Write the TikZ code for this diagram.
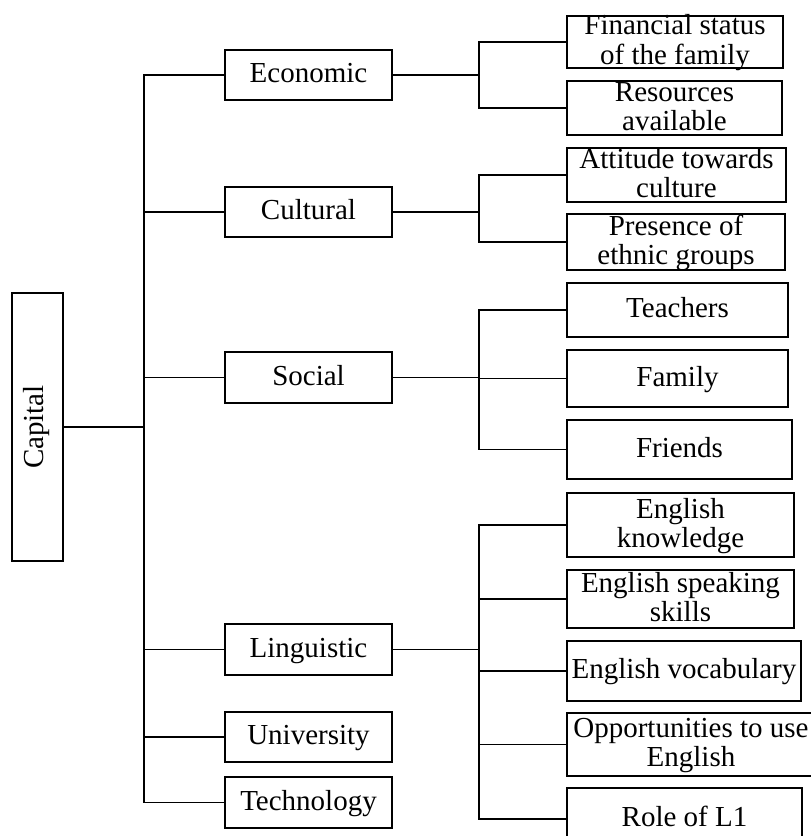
\documentclass[tikz,border=0pt]{standalone}
\usepackage{fontspec}
\setmainfont{Liberation Serif}
\begin{document}
\begin{tikzpicture}[x=1pt,y=-1pt,
  box/.style={draw, line width=1.6pt, inner sep=0pt},
  txt/.style={inner sep=0pt, align=center, font=\fontsize{29}{29}\selectfont, yshift=-2pt},
  ln/.style={line width=1.6pt}]
\clip (0,0) rectangle (811,836);
% root
\node[box, minimum width=51pt, minimum height=268pt] (cap) at (37.5,427) {};
\node[inner sep=0pt, font=\fontsize{29}{29}\selectfont, rotate=90] (capT) at (cap) {\strut Capital};
% middle level
\node[box, minimum width=167pt, minimum height=50pt] (eco) at (308.5,75) {};
\node[box, minimum width=167pt, minimum height=50pt] (cul) at (308.5,212) {};
\node[box, minimum width=167pt, minimum height=51pt] (soc) at (308.5,377.5) {};
\node[box, minimum width=167pt, minimum height=51pt] (lin) at (308.5,649.5) {};
\node[box, minimum width=167pt, minimum height=50pt] (uni) at (308.5,737) {};
\node[box, minimum width=167pt, minimum height=51pt] (tec) at (308.5,802.5) {};
\node[txt] (ecoT) at (eco) {\strut Economic};
\node[txt] (culT) at (cul) {\strut Cultural};
\node[txt] (socT) at (soc) {\strut Social};
\node[txt] (linT) at (lin) {\strut Linguistic};
\node[txt] (uniT) at (uni) {\strut University};
\node[txt] (tecT) at (tec) {\strut Technology};
% leaves
\node[box, minimum width=216pt, minimum height=52pt] (fin) at (675,42) {};
\node[box, minimum width=215pt, minimum height=54pt] (res) at (674.5,108) {};
\node[box, minimum width=219pt, minimum height=54pt] (att) at (676.5,175) {};
\node[box, minimum width=218pt, minimum height=56pt] (pre) at (676,242) {};
\node[box, minimum width=221pt, minimum height=54pt] (tea) at (677.5,310) {};
\node[box, minimum width=221pt, minimum height=57pt] (fam) at (677.5,378.5) {};
\node[box, minimum width=225pt, minimum height=59pt] (fri) at (679.5,449.5) {};
\node[box, minimum width=227pt, minimum height=64pt] (enk) at (680.5,525) {};
\node[box, minimum width=227pt, minimum height=58pt] (ens) at (680.5,599) {};
\node[box, minimum width=234pt, minimum height=60pt] (env) at (684,671) {};
\node[box, minimum width=248pt, minimum height=63pt] (opp) at (691,744.5) {};
\node[box, minimum width=235pt, minimum height=62pt] (rol) at (684.5,819) {};
\node[txt] (finT) at (fin) {\strut Financial status\\\strut of the family};
\node[txt] (resT) at (res) {\strut Resources\\\strut available};
\node[txt] (attT) at (att) {\strut Attitude towards\\\strut culture};
\node[txt] (preT) at (pre) {\strut Presence of\\\strut ethnic groups};
\node[txt] (teaT) at (tea) {\strut Teachers};
\node[txt] (famT) at (fam) {\strut Family};
\node[txt] (friT) at (fri) {\strut Friends};
\node[txt] (enkT) at (enk) {\strut English\\\strut knowledge};
\node[txt] (ensT) at (ens) {\strut English speaking\\\strut skills};
\node[txt] (envT) at (env) {\strut English vocabulary};
\node[txt] (oppT) at (opp) {\strut Opportunities to use\\\strut English};
\node[txt] (rolT) at (rol) {\strut Role of L1};
% trunk coordinates
\coordinate (T) at (144,427);
\coordinate (E) at (479,0);
% first level connectors
\draw[ln] (cap.east) -- (T);
\draw[ln] (eco.west) -- (eco.west -| T) -- (tec.west -| T) -- (tec.west);
\draw[ln] (cul.west) -- (cul.west -| T);
\draw[ln] (soc.west) -- (soc.west -| T);
\draw[ln] (lin.west) -- (lin.west -| T);
\draw[ln] (uni.west) -- (uni.west -| T);
% economic
\draw[ln] (eco.east) -- (eco.east -| E);
\draw[ln] (fin.west) -- (fin.west -| E) -- (res.west -| E) -- (res.west);
% cultural
\draw[ln] (cul.east) -- (cul.east -| E);
\draw[ln] (att.west) -- (att.west -| E) -- (pre.west -| E) -- (pre.west);
% social
\draw[ln] (soc.east) -- (soc.east -| E);
\draw[ln] (tea.west) -- (tea.west -| E) -- (fri.west -| E) -- (fri.west);
\draw[ln] (fam.west -| E) -- (fam.west);
% linguistic
\draw[ln] (lin.east) -- (lin.east -| E);
\draw[ln] (enk.west) -- (enk.west -| E) -- (rol.west -| E) -- (rol.west);
\draw[ln] (ens.west -| E) -- (ens.west);
\draw[ln] (env.west -| E) -- (env.west);
\draw[ln] (opp.west -| E) -- (opp.west);
\end{tikzpicture}
\end{document}
